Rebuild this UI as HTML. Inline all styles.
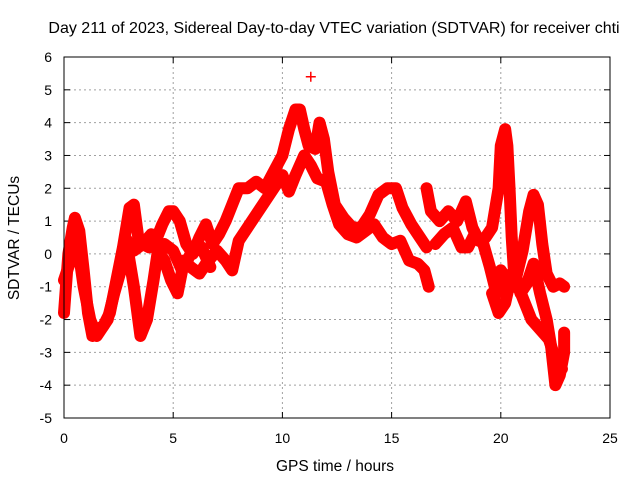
<!DOCTYPE html>
<html><head><meta charset="utf-8"><style>
body{margin:0;background:#fff}
svg{display:block;font-family:"Liberation Sans",sans-serif}
</style></head><body>
<svg id="chart" width="640" height="480">
<text x="334" y="33" font-size="16" text-anchor="middle">Day 211 of 2023, Sidereal Day-to-day VTEC variation (SDTVAR) for receiver chti</text>
<g id="grid"></g>
<g id="axes"></g>
<g id="marks"></g>
<rect x="64" y="57" width="546" height="361" fill="none" stroke="#000" stroke-width="1"/>
<text x="335" y="471" font-size="15.5" text-anchor="middle">GPS time / hours</text>
<text transform="translate(19,238) rotate(-90)" font-size="15.5" text-anchor="middle">SDTVAR / TECUs</text>
</svg>
<script>
const xTicks=[0,5,10,15,20,25];
const yTicks=[-5,-4,-3,-2,-1,0,1,2,3,4,5,6];
const seriesA=[[0,-1.8],[0.2,0],[0.4,0.8],[0.5,1.1],[0.7,0.7],[0.9,-0.5],[1.1,-1.8],[1.3,-2.5],[1.5,-2.3],[1.8,-2.2],[2.1,-1.8],[2.4,-0.8],[2.7,0.2],[3.0,1.4],[3.2,1.5],[3.4,0.5],[3.6,0.3],[3.9,0.2],[4.2,0.4],[4.5,0.9],[4.8,1.3],[5.0,1.3],[5.3,1.0],[5.6,0.3],[5.9,0.0],[6.2,0.5],[6.5,0.9],[6.8,0.3],[7.1,0.6],[7.4,1.0],[7.7,1.5],[8.0,2.0],[8.4,2.0],[8.8,2.2],[9.2,2.0],[9.6,2.5],[10.0,3.0],[10.3,3.8],[10.6,4.4],[10.8,4.4],[11.0,3.8],[11.2,3.3],[11.5,3.2],[11.7,4.0],[11.9,3.5],[12.1,2.5],[12.4,1.5],[12.8,1.1],[13.2,0.8],[13.6,0.8],[14.0,1.2],[14.4,1.8],[14.8,2.0],[15.2,2.0],[15.5,1.4],[15.9,0.9],[16.3,0.5],[16.6,0.2]];
const seriesB=[[0,-0.8],[0.3,-0.2],[0.6,0.4],[0.9,-1.0],[1.2,-2.0],[1.5,-2.5],[2.0,-2.0],[2.3,-1.2],[2.6,-0.5],[2.9,0.2],[3.2,-1.0],[3.5,-2.5],[3.8,-2.0],[4.1,-0.8],[4.3,0.1],[4.6,-0.2],[4.9,-0.8],[5.2,-1.2],[5.5,-0.2],[5.8,-0.4],[6.2,-0.6],[6.5,-0.3],[7.0,0.1],[7.4,-0.2],[7.7,-0.5],[8.0,0.4],[8.4,0.8],[8.8,1.2],[9.2,1.6],[9.6,2.0],[10.0,2.4],[10.3,1.9],[10.6,2.4],[11.0,3.0],[11.3,2.7],[11.6,2.3],[12.0,2.2],[12.3,1.5],[12.6,0.9],[13.0,0.6],[13.4,0.5],[13.8,0.7],[14.2,0.9],[14.6,0.5],[15.0,0.3],[15.4,0.4],[15.8,-0.2],[16.2,-0.3],[16.5,-0.5],[16.7,-1.0]];
const seriesC=[[2.8,0.5],[3.2,0.1],[3.6,0.3],[4.0,0.6],[4.3,0.0],[4.6,0.3],[5.0,0.1],[5.4,-0.5],[5.8,0.0],[6.3,0.2],[6.7,-0.4]];
const seriesD=[[16.6,2.0],[16.8,1.3],[17.2,1.0],[17.6,1.3],[18.0,1.0],[18.4,1.6],[18.7,0.8],[19.0,0.4],[19.3,0.5],[19.6,0.8],[19.9,2.0],[20.0,3.3],[20.2,3.8],[20.3,3.3],[20.4,2.0],[20.5,0.5],[20.6,-0.5],[20.9,-1.2],[21.2,-0.9],[21.5,-0.3],[21.8,-1.2],[22.1,-2.0],[22.3,-2.8],[22.5,-4.0],[22.7,-3.7],[22.9,-3.0],[22.9,-2.4]];
const seriesE=[[17.0,0.3],[17.4,0.6],[17.8,0.8],[18.2,0.2],[18.5,0.2],[18.8,0.6],[19.2,0.3],[19.5,-0.4],[19.8,-1.2],[20.0,-0.5],[20.3,-0.8],[20.6,-1.0],[21.0,0.1],[21.3,1.3],[21.5,1.8],[21.7,1.5],[21.9,0.3],[22.1,-0.6],[22.4,-1.0],[22.7,-0.9],[22.9,-1.0]];
const seriesF=[[19.6,-1.2],[19.9,-1.8],[20.2,-1.5],[20.5,-0.6],[20.8,-1.0],[21.1,-1.5],[21.4,-2.0],[21.8,-2.3],[22.2,-2.6],[22.5,-3.2],[22.8,-3.5]];
const outliers=[[11.3,5.4]];
const allSeries=[seriesA,seriesB,seriesC,seriesD,seriesE,seriesF];

const NS='http://www.w3.org/2000/svg';
const X0=64,X1=610,Y0=418,Y1=57;
function xs(h){return X0+(h-0)/(25-0)*(X1-X0);}
function ys(v){return Y0-(v-(-5))/(6-(-5))*(Y0-Y1);}
function mk(tag,at,parent){const e=document.createElementNS(NS,tag);for(const k in at)e.setAttribute(k,at[k]);parent.appendChild(e);return e;}
const grid=document.getElementById('grid'),axes=document.getElementById('axes'),marks=document.getElementById('marks');
xTicks.forEach(t=>{
  const x=xs(t);
  if(t>0&&t<25){const l=mk('line',{x1:x,x2:x,y1:Y1,y2:Y0,stroke:'#a0a0a0','stroke-dasharray':'2,3'},grid);
  
  }
  mk('line',{x1:x,x2:x,y1:Y0,y2:Y0-6,stroke:'#000'},axes);
  mk('line',{x1:x,x2:x,y1:Y1,y2:Y1+6,stroke:'#000'},axes);
  const tx=mk('text',{x:x,y:443,'font-size':14,'text-anchor':'middle'},axes);tx.textContent=t;
  
  
});
yTicks.forEach(t=>{
  const y=ys(t);
  if(t>-5&&t<6){const l=mk('line',{x1:X0,x2:X1,y1:y,y2:y,stroke:'#a0a0a0','stroke-dasharray':'2,3'},grid);
  
  }
  mk('line',{x1:X0,x2:X0+6,y1:y,y2:y,stroke:'#000'},axes);
  mk('line',{x1:X1,x2:X1-6,y1:y,y2:y,stroke:'#000'},axes);
  const tx=mk('text',{x:52,y:y+5,'font-size':14,'text-anchor':'end'},axes);tx.textContent=t;
  
  
});
function plus(h,v){
  const x=xs(h),y=ys(v);
  const p=mk('path',{d:`M${x-5},${y}H${x+5}M${x},${y-5}V${y+5}`,stroke:'#f00','stroke-width':1.5},marks);
  
  
}
allSeries.forEach((s,i)=>{
  const pl=mk('polyline',{points:s.map(p=>xs(p[0])+','+ys(p[1])).join(' '),fill:'none',stroke:'#f00','stroke-width':12,'stroke-linejoin':'round','stroke-linecap':'round'},marks);
  
  
  s.forEach(p=>plus(p[0],p[1]));
});
outliers.forEach(p=>plus(p[0],p[1]));
</script>
</body></html>
